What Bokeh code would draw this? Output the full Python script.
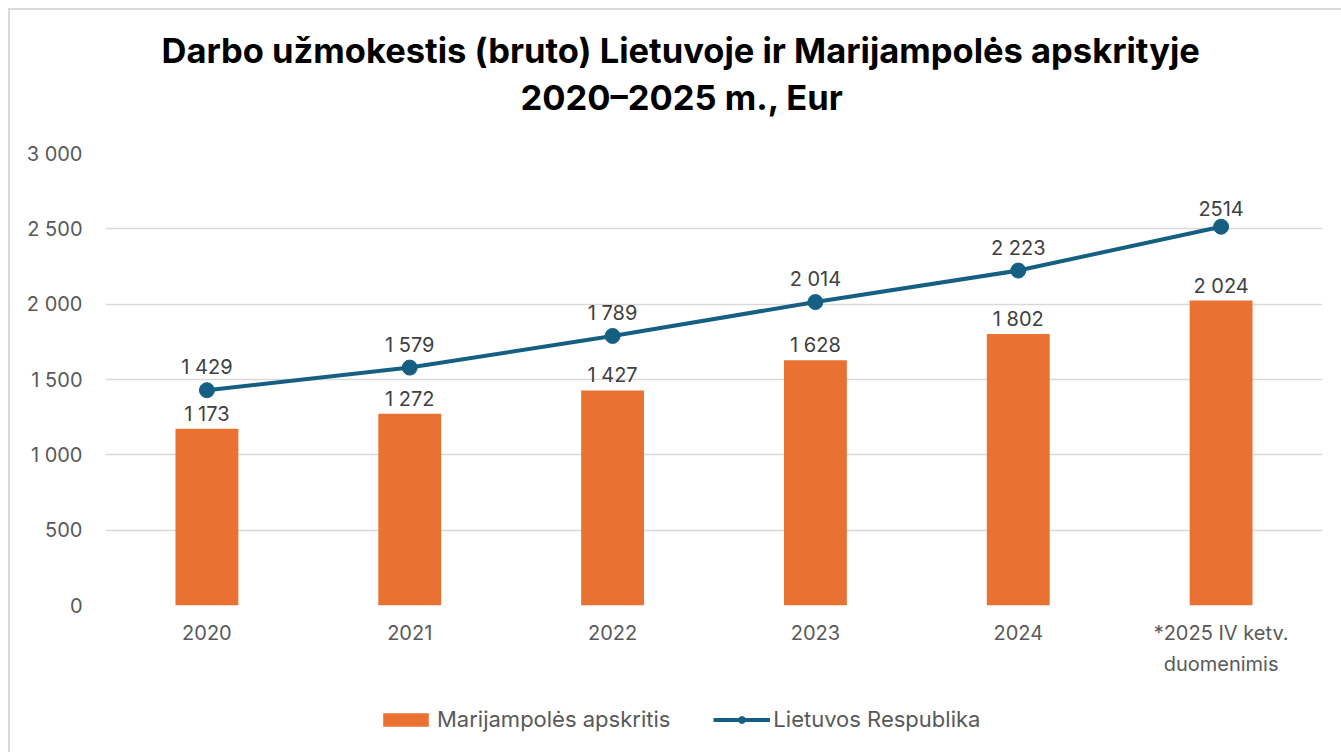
from bokeh.plotting import figure
from bokeh.layouts import column
from bokeh.models import ColumnDataSource, FactorRange, FixedTicker, Title, Legend, LegendItem
from bokeh.embed import file_html
from bokeh.resources import INLINE
from bokeh.core.properties import value

# ---- data ----
categories = ["2020", "2021", "2022", "2023", "2024", "*2025 IV ketv.\nduomenimis"]
marijampole = [1173, 1272, 1427, 1628, 1802, 2024]
lietuva = [1429, 1579, 1789, 2014, 2223, 2514]
marijampole_labels = ["1 173", "1 272", "1 427", "1 628", "1 802", "2 024"]
lietuva_labels = ["1 429", "1 579", "1 789", "2 014", "2 223", "2514"]
y_ticks = [0, 500, 1000, 1500, 2000, 2500, 3000]
y_tick_labels = ["0", "500", "1 000", "1 500", "2 000", "2 500", "3 000"]
title_lines = ["Darbo užmokestis (bruto) Lietuvoje ir Marijampolės apskrityje", "2020–2025 m., Eur"]
series_names = ["Marijampolės apskritis", "Lietuvos Respublika"]

# ---- style ----
FONT = "Inter"
BAR_COLOR = "#E97132"
LINE_COLOR = "#156082"
AXIS_TEXT = "#595959"
LABEL_TEXT = "#404040"
GRID = "#D9D9D9"
BAR_W = 0.31

src = ColumnDataSource(dict(cat=categories, m=marijampole, l=lietuva,
                            ml=marijampole_labels, ll=lietuva_labels))

W = 1341
H_MAIN, H_LEG = 690, 62
p = figure(x_range=FactorRange(factors=categories, range_padding=0),
           y_range=(0, 3000), width=W, height=H_MAIN,
           output_backend="svg", toolbar_location=None,
           min_border_left=105, min_border_right=19, min_border_top=153, min_border_bottom=H_MAIN - 605)
p.title.visible = False
p.outline_line_color = None
p.background_fill_color = "white"
p.border_fill_color = "white"

# titles (stacked upward from the frame)
spacer = Title(text=" ", text_font_size="1px", standoff=29)
t2 = Title(text=title_lines[1], align="left", offset=415, text_font=FONT, text_font_size="34.5px",
           text_font_style="bold", text_color="black", standoff=8)
t1 = Title(text=title_lines[0], align="left", offset=56, text_font=FONT, text_font_size="34.5px",
           text_font_style="bold", text_color="black", standoff=0)
p.add_layout(spacer, "above")
p.add_layout(t2, "above")
p.add_layout(t1, "above")

# glyphs
bars = p.vbar(x="cat", top="m", width=BAR_W, source=src, color=BAR_COLOR, line_color=None)
line = p.line(x="cat", y="l", source=src, line_color=LINE_COLOR, line_width=4)
dots = p.scatter(x="cat", y="l", source=src, size=15, fill_color=LINE_COLOR, line_color=LINE_COLOR)

p.text(x="cat", y="m", text="ml", source=src, text_font=value(FONT), text_font_size="20px",
       text_color=LABEL_TEXT, text_align="center", text_baseline="bottom", y_offset=-3)
p.text(x="cat", y="l", text="ll", source=src, text_font=value(FONT), text_font_size="20px",
       text_color=LABEL_TEXT, text_align="center", text_baseline="bottom", y_offset=-11)

# axes
p.yaxis.ticker = FixedTicker(ticks=y_ticks)
p.yaxis.major_label_overrides = {t: s for t, s in zip(y_ticks, y_tick_labels)}
for ax in (p.xaxis[0], p.yaxis[0]):
    ax.axis_line_color = None
    ax.major_tick_line_color = None
    ax.minor_tick_line_color = None
    ax.major_label_text_font = FONT
    ax.major_label_text_font_size = "20px"
    ax.major_label_text_color = AXIS_TEXT
p.yaxis.major_label_standoff = 17
p.xaxis.major_label_standoff = 9
p.xaxis.major_label_text_line_height = 1.31
p.xgrid.grid_line_color = None
p.ygrid.grid_line_color = GRID
p.ygrid.grid_line_width = 1.5
p.ygrid.ticker = FixedTicker(ticks=y_ticks)

# ---- legend strip (same series, kept below its visible range; only the legend shows) ----
pl = figure(width=W, height=H_LEG, x_range=FactorRange(factors=categories, range_padding=0),
            y_range=(50000, 50010), x_axis_type=None, y_axis_type=None,
            output_backend="svg", toolbar_location=None,
            min_border=0, min_border_left=0, min_border_right=0, min_border_top=0, min_border_bottom=0)
pl.title.visible = False
pl.grid.visible = False
pl.outline_line_color = None
pl.background_fill_color = "white"
pl.border_fill_color = "white"
lb = pl.vbar(x="cat", top="m", width=BAR_W, source=src, color=BAR_COLOR, line_color=None)
ll = pl.line(x="cat", y="l", source=src, line_color=LINE_COLOR, line_width=4)
ld = pl.scatter(x="cat", y="l", source=src, size=15, fill_color=LINE_COLOR, line_color=LINE_COLOR)
legend = Legend(items=[LegendItem(label=series_names[0], renderers=[lb]),
                       LegendItem(label=series_names[1], renderers=[ll, ld])],
                orientation="horizontal", location=(272, 20),
                label_text_font=FONT, label_text_font_size="22px", label_text_color=AXIS_TEXT,
                glyph_width=57, glyph_height=17, label_standoff=3, spacing=43,
                padding=0, margin=0, border_line_color=None, background_fill_alpha=0)
pl.add_layout(legend)

layout = column(p, pl, spacing=0)

html = file_html(layout, INLINE)
frame_div = ('<div style="position:absolute;left:8px;top:8px;width:1333px;height:744px;'
             'border-left:2px solid #D9D9D9;border-top:2px solid #D9D9D9;box-sizing:border-box;'
             'pointer-events:none;z-index:10"></div>')
html = html.replace("</body>", frame_div + "</body>", 1)
open("out.html", "w").write(html)
